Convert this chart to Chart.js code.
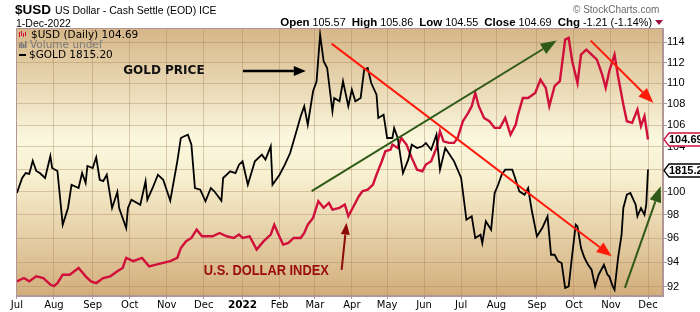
<!DOCTYPE html>
<html><head><meta charset="utf-8">
<script src="https://cdn.jsdelivr.net/npm/chart.js@4.4.1/dist/chart.umd.min.js"></script>
<style>
html,body{margin:0;padding:0;background:#fff;width:700px;height:312px;overflow:hidden;}
#wrap{position:relative;width:700px;height:312px;}
canvas{position:absolute;left:0;top:0;}
.t{position:absolute;white-space:nowrap;line-height:1;color:#000;}
</style></head><body>
<div id="wrap">
<canvas id="c" width="700" height="312"></canvas>
<div class="t" style="left:15px;top:2px;font:bold 13.5px 'Liberation Sans',Arial,sans-serif;">$USD</div>
<div class="t" style="left:55px;top:4px;font:10.5px 'Liberation Sans',Arial,sans-serif;">US Dollar - Cash Settle (EOD) ICE</div>
<div class="t" style="left:16px;top:17px;font:10.5px 'Liberation Sans',Arial,sans-serif;">1-Dec-2022</div>
<div class="t" style="right:48px;top:16px;font:10.8px 'Liberation Sans',Arial,sans-serif;"><b style="font-size:11.5px">Open</b> 105.57&nbsp;&nbsp;<b style="font-size:11.5px">High</b> 105.86&nbsp;&nbsp;<b style="font-size:11.5px">Low</b> 104.55&nbsp;&nbsp;<b style="font-size:11.5px">Close</b> 104.69&nbsp;&nbsp;<b style="font-size:11.5px">Chg</b> -1.21 (-1.14%)</div>
<div style="position:absolute;left:655px;top:20px;width:0;height:0;border-left:4px solid transparent;border-right:4px solid transparent;border-top:5px solid #9c1040;"></div>
<div class="t" style="left:573px;top:4px;font:10px 'Liberation Sans',Arial,sans-serif;color:#6a6a6a;">© StockCharts.com</div>
</div>
<script>
// ---- data (x = trading-day index since 1-Jul-2021) ----
const monthTicks  = [0,21,43,64,85,106,128,149,169,190,210,231,252,272,295,316,337,358];
const monthLabels = ['Jul','Aug','Sep','Oct','Nov','Dec','2022','Feb','Mar','Apr','May','Jun','Jul','Aug','Sep','Oct','Nov','Dec'];
const usdTicks = [92,94,96,98,100,102,104,106,108,110,112,114];

const usdDays = [0,4,7,11,15,19,21,23,26,30,35,39,42,45,49,53,57,60,62,66,71,75,79,83,87,91,93,96,99,102,105,108,111,115,119,123,126,128,132,136,140,144,146,148,151,154,157,161,163,165,168,171,174,177,179,183,186,188,191,194,196,199,202,204,207,209,212,213,216,218,221,224,227,230,232,235,238,240,242,245,248,250,253,256,258,260,262,265,268,271,274,277,280,283,284,287,290,294,297,300,302,305,308,311,313,315,318,320,323,326,329,332,334,336,339,341,344,346,349,352,354,356,358];
const usdValues = [92.43,92.70,92.43,92.84,92.70,92.17,92.04,92.29,92.97,92.97,93.52,92.84,92.43,92.29,92.70,92.84,93.25,93.52,94.35,94.08,94.35,93.66,93.80,93.94,94.08,94.35,95.18,95.75,96.02,96.72,96.16,96.16,96.16,96.44,96.16,96.02,96.31,96.02,96.16,95.04,95.75,96.31,97.14,96.44,95.46,95.60,96.02,96.02,96.44,97.14,97.72,99.17,98.59,99.02,98.44,98.59,98.88,97.87,98.73,99.60,100.04,100.18,100.63,101.51,102.71,103.61,103.76,104.22,103.91,104.83,104.22,103.01,101.95,101.81,102.41,102.71,103.91,105.45,104.52,104.38,104.38,104.83,106.38,107.16,107.79,109.05,107.79,106.69,106.38,105.76,105.76,106.69,105.13,106.07,106.85,108.57,108.57,109.05,110.34,109.54,107.79,109.70,110.18,114.28,114.46,112.13,110.01,112.79,113.28,112.79,112.29,110.82,109.54,111.15,112.79,110.67,107.95,106.38,106.23,107.47,105.92,106.85,104.69];

const goldDays = [0,3,5,7,9,11,13,16,19,20,23,26,29,31,35,37,39,40,43,45,47,49,51,54,57,58,62,63,65,70,73,74,77,80,83,87,91,93,95,97,99,101,104,107,110,112,116,117,121,124,126,128,131,135,139,141,144,145,149,152,155,158,161,163,165,168,170,172,174,176,179,180,183,185,188,190,192,195,197,199,201,204,205,208,210,213,214,216,219,222,224,227,230,232,235,238,240,243,248,252,255,258,260,263,264,266,269,271,273,275,277,281,282,285,288,290,292,295,298,301,303,305,307,309,311,313,315,317,318,320,322,324,326,328,330,333,335,336,338,339,341,343,344,346,348,351,352,354,356,357,358];
const goldValues = [1777.5,1801.5,1809.5,1808.0,1829.5,1812.8,1809.5,1801.5,1837.2,1817.6,1812.8,1727.9,1753.9,1790.7,1785.5,1809.5,1793.5,1820.9,1817.6,1835.1,1798.7,1796.6,1806.8,1753.9,1779.1,1753.9,1722.8,1753.9,1766.9,1759.0,1796.2,1766.9,1785.5,1806.8,1798.7,1765.3,1828.5,1867.0,1869.8,1872.5,1855.8,1785.5,1782.8,1764.4,1785.5,1780.2,1765.3,1801.5,1812.3,1809.5,1823.0,1828.5,1790.7,1828.5,1839.4,1831.2,1853.2,1790.7,1806.8,1823.0,1842.1,1872.5,1903.5,1920.6,1889.3,1946.5,1963.9,2047.4,1999.3,1987.4,1912.0,1934.9,1929.2,1963.9,1920.6,1949.3,1929.2,1934.9,1984.4,1987.4,1960.9,1940.6,1900.6,1906.2,1867.0,1867.0,1883.7,1867.0,1809.5,1831.2,1855.8,1850.4,1853.2,1858.7,1847.6,1872.5,1814.9,1850.4,1828.5,1801.5,1735.6,1740.9,1707.5,1712.6,1699.9,1733.2,1720.2,1777.5,1790.7,1806.8,1814.9,1814.9,1806.8,1780.2,1774.8,1785.5,1751.2,1710.1,1722.8,1740.9,1682.2,1682.2,1672.4,1669.8,1633.0,1635.4,1682.2,1727.9,1725.4,1692.3,1677.3,1667.3,1659.9,1635.4,1652.5,1667.3,1652.5,1650.1,1635.4,1630.5,1677.3,1712.6,1753.9,1774.8,1777.5,1759.0,1740.9,1753.9,1743.4,1759.0,1815.2];

// annotation arrows in data space (day index, USD value)
const arrowFrom = [[128.2,111.18],[184.2,93.37],[178.5,113.88],[167.2,100.04],[325.5,114.18],[344.9,91.90]];
const arrowTo   = [[163.9,111.18],[187.0,97.32],[337.4,94.49],[306.2,114.18],[361.0,108.11],[365.2,100.48]];
const arrowColor = ['#000000','#8e0b0b','#ff1a0a','#2f5a17','#ff1a0a','#2f5a17'];
const annoText = ['GOLD PRICE','U.S. DOLLAR INDEX'];
const annoPos  = [[83.4,111.18],[141.5,93.28]];

const usdData  = usdDays.map((d,i)=>({x:d,y:usdValues[i]}));
const goldData = goldDays.map((d,i)=>({x:d,y:goldValues[i]}));

function arrow(ctx,x1,y1,x2,y2,color,w,hl,hw){
  const a=Math.atan2(y2-y1,x2-x1);
  const bx=x2-hl*Math.cos(a), by=y2-hl*Math.sin(a);
  ctx.strokeStyle=color; ctx.lineWidth=w; ctx.lineCap='butt';
  ctx.beginPath(); ctx.moveTo(x1,y1); ctx.lineTo(bx,by); ctx.stroke();
  ctx.fillStyle=color; ctx.beginPath(); ctx.moveTo(x2,y2);
  ctx.lineTo(bx+hw/2*Math.sin(a), by-hw/2*Math.cos(a));
  ctx.lineTo(bx-hw/2*Math.sin(a), by+hw/2*Math.cos(a));
  ctx.closePath(); ctx.fill();
}

const bgPlugin = {
  id:'bg',
  beforeDraw(chart){
    const {ctx, chartArea:a} = chart;
    const g = ctx.createLinearGradient(0,a.top,0,a.bottom);
    g.addColorStop(0,'#d5b687'); g.addColorStop(0.42,'#fbf8df'); g.addColorStop(0.56,'#f7efcf'); g.addColorStop(1,'#d2ad7b');
    ctx.save(); ctx.fillStyle=g; ctx.fillRect(a.left,a.top,a.right-a.left,a.bottom-a.top); ctx.restore();
  }
};

const annoPlugin = {
  id:'anno',
  afterDatasetsDraw(chart){
    const {ctx, chartArea:a, scales} = chart;
    const xs=scales.x, ys=scales.y;
    ctx.save();
    const styles=[[2.5,12,10],[2,12,9],[2,15,12],[2,16,12],[2,15,12],[2,16,12]];
    arrowFrom.forEach((f,i)=>{
      const t=arrowTo[i];
      arrow(ctx,xs.getPixelForValue(f[0]),ys.getPixelForValue(f[1]),xs.getPixelForValue(t[0]),ys.getPixelForValue(t[1]),arrowColor[i],styles[i][0],styles[i][1],styles[i][2]);
    });
    ctx.textAlign='center'; ctx.textBaseline='middle';
    ctx.fillStyle='#111'; ctx.font="bold 12px 'DejaVu Sans', sans-serif";
    ctx.fillText(annoText[0], xs.getPixelForValue(annoPos[0][0]), ys.getPixelForValue(annoPos[0][1]));
    ctx.save();
    ctx.translate(xs.getPixelForValue(annoPos[1][0]), ys.getPixelForValue(annoPos[1][1]));
    ctx.font="bold 15px 'Liberation Sans', Arial, sans-serif";
    const w=ctx.measureText(annoText[1]).width;
    ctx.scale(125/w,1);
    ctx.fillStyle='#9a0c0c';
    ctx.fillText(annoText[1],0,0);
    ctx.restore();
    ctx.strokeStyle='#b09696'; ctx.lineWidth=1;
    ctx.strokeRect(a.left+0.5,a.top+0.5,a.right-a.left-1,a.bottom-a.top-1);
    const L=a.left, T=a.top;
    ctx.textAlign='left';
    ctx.strokeStyle='#d0103a'; ctx.lineWidth=1;
    [[3,4,9],[5,3,8],[7,5,9],[9,4,8]].forEach(b=>{ctx.beginPath();ctx.moveTo(L+b[0]+0.5,T+b[1]);ctx.lineTo(L+b[0]+0.5,T+b[2]);ctx.stroke();});
    ctx.fillStyle='#000'; ctx.font="10.5px 'DejaVu Sans', sans-serif";
    ctx.fillText('$USD (Daily) '+usdValues[usdValues.length-1].toFixed(2), L+15, T+7);
    ctx.fillStyle='#7a7a7a';
    [[3,15,20],[5,14,20],[7,16,20],[9,13,20]].forEach(b=>{ctx.fillRect(L+b[0],T+b[1],1.5,b[2]-b[1]);});
    ctx.fillText('Volume undef', L+14, T+17);
    ctx.fillStyle='#000'; ctx.fillRect(L+3,T+26,7,2);
    ctx.fillText('$GOLD '+goldValues[goldValues.length-1].toFixed(2), L+13, T+27);
    ctx.restore();
  },
  afterDraw(chart){
    const {ctx, chartArea:a, scales} = chart;
    ctx.save();
    const boxes=[[scales.y.getPixelForValue(usdValues[usdValues.length-1]), usdValues[usdValues.length-1].toFixed(2), '#d0103a'],
                 [scales.yg.getPixelForValue(goldValues[goldValues.length-1]), goldValues[goldValues.length-1].toFixed(2), '#000']];
    boxes.forEach(b=>{
      const y=Math.round(b[0])+0.5, x=a.right+1;
      ctx.beginPath(); ctx.moveTo(x,y); ctx.lineTo(x+5,y-6.5); ctx.lineTo(x+40,y-6.5); ctx.lineTo(x+40,y+6.5); ctx.lineTo(x+5,y+6.5); ctx.closePath();
      ctx.fillStyle='#fff'; ctx.fill(); ctx.strokeStyle=b[2]; ctx.lineWidth=1.3; ctx.stroke();
      ctx.fillStyle='#000'; ctx.font="bold 11px 'Liberation Sans', Arial, sans-serif"; ctx.textAlign='left'; ctx.textBaseline='middle';
      ctx.fillText(b[1], x+5, y+0.5);
    });
    ctx.restore();
  }
};

const gridCol='rgba(165,130,90,0.38)';
new Chart(document.getElementById('c'), {
  type:'line',
  data:{datasets:[
    {data:goldData, yAxisID:'yg', borderColor:'#000', borderWidth:1.8, pointRadius:0, tension:0},
    {data:usdData, yAxisID:'y', borderColor:'#d0103a', borderWidth:2.4, pointRadius:0, tension:0}
  ]},
  options:{
    responsive:false, animation:false, devicePixelRatio:1,
    layout:{padding:{left:16,top:28,right:0,bottom:0}},
    plugins:{legend:{display:false}, tooltip:{enabled:false}},
    scales:{
      x:{type:'linear', min:-0.5, max:366.5,
         afterBuildTicks:s=>{s.ticks=monthTicks.map(v=>({value:v}));},
         afterFit:s=>{s.height=16;},
         grid:{color:gridCol, tickLength:3, tickColor:'#b09696', drawTicks:true},
         border:{color:'#b09696'},
         ticks:{autoSkip:false, maxRotation:0, padding:0, color:'#000',
           callback:(v,i)=>monthLabels[i],
           font:c=>({family:"'DejaVu Sans', sans-serif", size: monthLabels[c.index]==='2022'?10.5:10, weight: monthLabels[c.index]==='2022'?'bold':'normal'})}},
      y:{type:'logarithmic', position:'right', min:91.25, max:115.45,
         afterBuildTicks:s=>{s.ticks=usdTicks.map(v=>({value:v}));},
         afterFit:s=>{s.width=37;},
         grid:{color:gridCol, tickLength:4, tickColor:'#b09696'},
         border:{color:'#b09696'},
         ticks:{padding:0, color:'#000', font:{family:"'Liberation Sans', Arial, sans-serif", size:11}, callback:v=>String(v)}},
      yg:{type:'logarithmic', display:false, min:1621.4, max:2059.6}
    }
  },
  plugins:[bgPlugin, annoPlugin]
});
</script>
</body></html>
